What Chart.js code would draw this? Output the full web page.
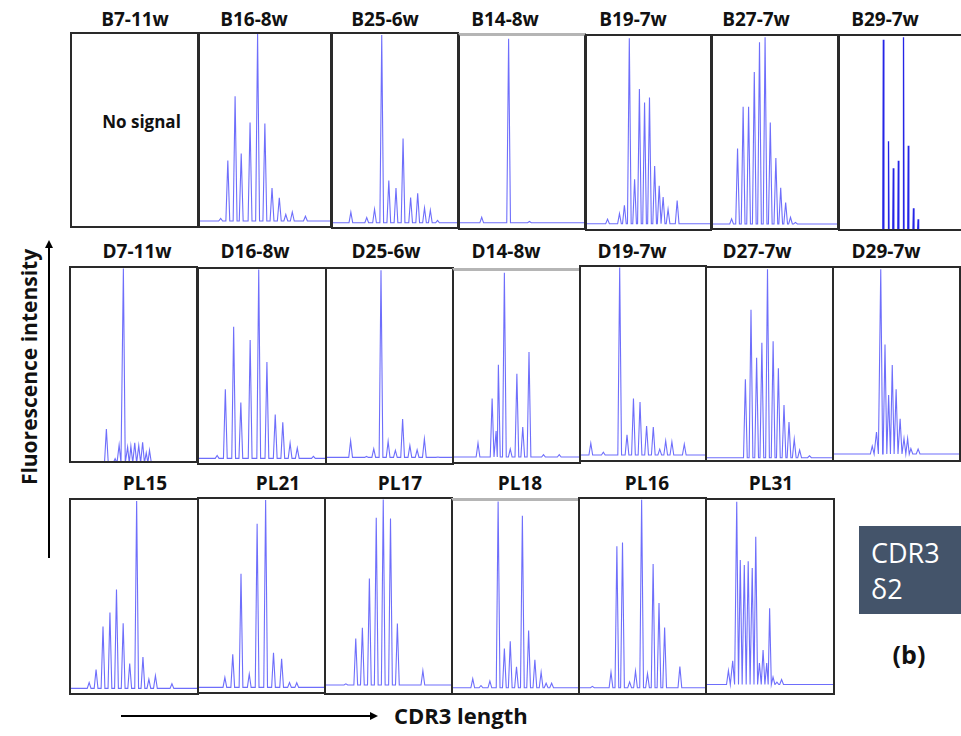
<!DOCTYPE html>
<html lang="en">
<head>
  <meta charset="UTF-8" />
  <title>CDR3 δ2 spectratypes</title>
  <script src="https://cdn.jsdelivr.net/npm/chart.js"></script>
  <style>
    body {
      margin: 0;
      width: 961px;
      height: 736px;
      position: relative;
      overflow: hidden;
      background: #fff;
      font-family: "Open Sans", Arial, sans-serif;
      color: #111;
    }
    .panel {
      position: absolute;
      box-sizing: border-box;
      border: 2px solid #2a2a2a;
      background: #fff;
    }
    .panel.ruled { border-top: 3px solid #b5b5b5; }
    .panel.open { border-right: none; }
    .panel canvas { display: block; }
    .title {
      position: absolute;
      font-weight: bold;
      font-size: 19px;
      line-height: 24px;
      white-space: nowrap;
      transform: translateX(-50%);
    }
    .nosignal {
      position: absolute;
      font-weight: bold;
      font-size: 17px;
      white-space: nowrap;
      transform: translate(-50%, -50%);
    }
    #ylabel {
      position: absolute;
      left: 29px;
      top: 367px;
      font-weight: bold;
      font-size: 21px;
      white-space: nowrap;
      transform: translate(-50%, -50%) rotate(-90deg);
    }
    #xlabel {
      position: absolute;
      left: 394px;
      top: 700px;
      font-weight: bold;
      font-size: 22px;
      white-space: nowrap;
    }
    #tag {
      position: absolute;
      left: 859px;
      top: 526px;
      width: 102px;
      height: 88px;
      background: #44546a;
      color: #fff;
      font-size: 27px;
      line-height: 36px;
      box-sizing: border-box;
      padding: 9px 0 0 12px;
    }
    #panelLetter {
      position: absolute;
      left: 909px;
      top: 654px;
      font-weight: bold;
      font-size: 25px;
      transform: translate(-50%, -50%);
    }
    svg { position: absolute; left: 0; top: 0; }
  </style>
</head>
<body>
  <div id="ylabel">Fluorescence intensity</div>
  <div id="xlabel">CDR3 length</div>
  <div id="tag">CDR3<br>δ2</div>
  <div id="panelLetter">(b)</div>
  <svg width="961" height="736">
    <defs>
      <marker id="head" markerWidth="8" markerHeight="8" refX="6" refY="4" orient="auto" markerUnits="userSpaceOnUse">
        <path d="M0,0 L8,4 L0,8 z" fill="#000" />
      </marker>
    </defs>
    <line x1="49" y1="558" x2="49" y2="242" stroke="#000" stroke-width="2" marker-end="url(#head)" />
    <line x1="121" y1="716" x2="376" y2="716" stroke="#000" stroke-width="2" marker-end="url(#head)" />
  </svg>

  <script>
    // Peak lists: [position along the length axis (0-100), peak height (0-100)]
    const B16_8w = [[15.9,3.9],[21.4,34.1],[27.0,67.6],[31.7,37.7],[38.5,53.9],[44.3,100],[49.9,53.4],[55.4,19.8],[61.0,14.7],[66.0,6.0],[71.0,7.3],[81.1,5.1]];
    const B25_6w = [[14.4,7.7],[27.2,4.9],[33.5,9.2],[39.3,99.5],[45.0,24.1],[50.8,20.2],[56.5,45.9],[62.6,15.3],[68.3,17.5],[73.8,9.9],[78.5,8.7],[84.3,3.4]];
    const B14_8w = [[17.5,5.6],[39.2,98.6],[56.0,3.4]];
    const B19_7w = [[16.7,5.1],[26.4,8.0],[30.4,12.3],[34.4,98.8],[38.7,25.8],[42.6,72.5],[46.8,65.6],[50.8,68.1],[55.0,32.6],[58.7,22.4],[61.9,16.5],[65.9,10.2],[73.3,14.8]];
    const B27_7w = [[15.0,4.8],[19.8,41.4],[24.3,63.2],[28.7,63.2],[33.3,81.3],[37.5,96.7],[42.0,99.3],[46.2,54.9],[50.7,36.4],[54.6,21.0],[58.6,13.3],[62.5,5.6],[66.5,2.9]];
    const B29_7w = [[34.4,98.0],[38.5,45.5],[42.3,31.5],[46.3,35.3],[50.4,99.3],[54.2,43.1],[58.3,10.7],[62.0,5.1]];

    const D7_11w = [[28.3,16.5],[35.3,1.2],[38.5,8.3],[41.9,99.7],[45.3,7.2],[47.9,7.7],[51.0,9.4],[54.2,8.0],[57.3,9.7],[60.2,4.3],[62.8,5.6]];
    const D16_8w = [[14.4,3.9],[20.9,38.0],[27.5,70.2],[33.2,31.2],[40.6,63.4],[47.4,99.7],[53.9,52.0],[60.5,25.0],[66.5,21.0],[72.3,10.2],[78.0,7.7],[90.8,3.4]];
    const D25_6w = [[18.9,11.4],[31.6,3.4],[37.4,7.3],[43.2,99.3],[48.9,11.1],[54.7,6.5],[60.5,22.7],[66.3,9.0],[72.1,6.8],[77.9,12.4],[88.7,3.1]];
    const D14_8w = [[19.2,9.9],[30.5,33.3],[33.7,16.2],[35.5,50.9],[40.3,99.1],[45.0,6.8],[50.3,46.2],[55.0,18.3],[60.0,57.6],[71.6,3.8],[84.2,3.8]];
    const D19_7w = [[7.9,8.7],[18.0,4.0],[31.2,99.8],[37.1,13.0],[42.3,31.8],[47.6,30.1],[52.9,17.6],[58.3,17.1],[63.5,5.6],[68.3,9.9],[73.3,9.4],[83.3,8.2]];
    const D27_7w = [[30.7,42.1],[35.2,78.2],[39.7,53.3],[43.9,61.0],[48.4,99.3],[52.9,61.9],[57.1,47.8],[61.6,28.7],[65.6,19.8],[69.8,10.8],[74.1,5.2],[82.0,2.2]];
    const D29_7w = [[30.6,7.2],[34.0,14.6],[37.4,99.3],[40.8,60.1],[43.7,33.8],[46.6,49.5],[49.7,36.9],[52.9,21.5],[56.0,11.2],[58.9,11.2],[61.5,6.0],[67.3,5.7]];

    const PL15 = [[14.4,5.4],[19.9,12.2],[25.4,34.5],[30.9,41.7],[36.1,53.6],[41.4,36.1],[46.6,15.3],[52.1,99.5],[57.1,18.7],[61.8,7.1],[67.0,9.0],[80.1,4.8]];
    const PL21 = [[20.7,7.5],[27.0,19.5],[33.6,61.3],[40.2,9.2],[46.5,87.2],[53.3,99.5],[59.6,20.3],[66.1,17.2],[72.4,4.9],[78.2,4.8]];
    const PL17 = [[15.9,4.7],[23.8,28.1],[29.1,33.6],[34.7,59.0],[40.2,90.3],[45.8,99.7],[51.6,90.0],[57.1,35.8],[77.5,11.5]];
    const PL18 = [[15.8,7.4],[22.4,3.9],[29.5,6.2],[36.1,99.7],[41.1,23.1],[45.8,27.0],[50.8,13.7],[55.5,92.3],[60.5,32.5],[65.5,17.3],[70.5,10.8],[74.5,5.1],[78.9,5.1]];
    const PL16 = [[9.9,3.4],[24.8,10.7],[29.5,75.7],[34.0,77.6],[39.7,5.7],[44.4,11.3],[49.3,99.6],[54.0,10.0],[58.5,66.5],[63.2,46.4],[67.7,33.8],[79.9,13.6]];
    const PL31 = [[17.0,11.6],[20.4,16.7],[23.6,99.1],[26.4,68.9],[29.6,66.3],[32.7,68.2],[35.9,64.8],[38.7,81.0],[41.6,15.5],[44.5,22.3],[47.4,15.5],[49.7,43.9],[52.4,8.2],[55.5,5.6],[59.2,7.0]];

    const panelTitles = [
      'B7-11w', 'B16-8w', 'B25-6w', 'B14-8w', 'B19-7w', 'B27-7w', 'B29-7w',
      'D7-11w', 'D16-8w', 'D25-6w', 'D14-8w', 'D19-7w', 'D27-7w', 'D29-7w',
      'PL15', 'PL21', 'PL17', 'PL18', 'PL16', 'PL31'
    ];
    const panelPeaks = [
      null, B16_8w, B25_6w, B14_8w, B19_7w, B27_7w, B29_7w,
      D7_11w, D16_8w, D25_6w, D14_8w, D19_7w, D27_7w, D29_7w,
      PL15, PL21, PL17, PL18, PL16, PL31
    ];
    // baseline level of each trace (negative = no baseline visible)
    const baselines = [
      0, 2.6, 2.2, 2.7, 2.7, 2.1, -1,
      -1, 2.4, 2.9, 2.6, 2.6, 1.2, 3.1,
      2.4, 2.4, 4.1, 2.7, 2.7, 4.4
    ];

    // page layout: [left, top, width, height] of each framed panel, and title centres
    const boxes = [
      [70, 32, 129, 196], [198, 32, 134, 196], [331, 32, 128, 197], [458, 33, 128, 197],
      [585, 34, 127, 197], [711, 34, 128, 196], [838, 34, 128, 197],
      [69, 266, 129, 197], [197, 267, 130, 198], [325, 267, 129, 198], [452, 268, 129, 196],
      [579, 265, 128, 197], [705, 266, 129, 196], [832, 266, 129, 196],
      [69, 498, 130, 197], [197, 497, 129, 197], [324, 497, 129, 198], [451, 498, 129, 197],
      [578, 497, 129, 198], [705, 498, 130, 197]
    ];
    const ruledTop = ['B14-8w', 'D14-8w', 'PL18'];
    const openRight = ['B29-7w'];
    const titleCenters = [
      [135, 7], [254, 7], [385, 7], [505, 7], [633, 7], [756, 7], [885, 7],
      [137, 239], [255, 239], [386, 239], [506, 239], [632, 239], [757, 239], [886, 239],
      [145, 471], [278, 471], [400, 471], [520, 471], [647, 471], [771, 471]
    ];

    // turn a peak list into a line trace: baseline, narrow spike per peak, baseline
    function peakTrace(peaks, base, halfWidth) {
      const pts = [{ x: 0, y: base }];
      peaks.forEach(([pos, h]) => {
        const left = pos - halfWidth;
        const last = pts[pts.length - 1];
        if (left < last.x) {
          // neighbouring peaks touch: meet in a valley halfway
          last.x = (last.x + left) / 2;
        } else {
          pts.push({ x: left, y: base });
        }
        pts.push({ x: pos, y: h });
        pts.push({ x: pos + halfWidth, y: base });
      });
      pts.push({ x: 100, y: base });
      return pts;
    }

    panelTitles.forEach((name, i) => {
      const [left, top, w, h] = boxes[i];
      const panel = document.createElement('div');
      panel.className = 'panel'
        + (ruledTop.includes(name) ? ' ruled' : '')
        + (openRight.includes(name) ? ' open' : '');
      Object.assign(panel.style, { left: left + 'px', top: top + 'px', width: w + 'px', height: h + 'px' });
      document.body.appendChild(panel);

      const title = document.createElement('div');
      title.className = 'title';
      title.textContent = name;
      title.style.left = titleCenters[i][0] + 'px';
      title.style.top = titleCenters[i][1] + 'px';
      document.body.appendChild(title);

      const peaks = panelPeaks[i];
      if (!peaks) {
        const msg = document.createElement('div');
        msg.className = 'nosignal';
        msg.textContent = 'No signal';
        msg.style.left = (left + w / 2 + 7) + 'px';
        msg.style.top = '121px';
        document.body.appendChild(msg);
        return;
      }

      const canvas = document.createElement('canvas');
      canvas.width = w - (openRight.includes(name) ? 2 : 4);
      canvas.height = h - (ruledTop.includes(name) ? 5 : 4);
      panel.appendChild(canvas);

      const dark = name === 'B29-7w';
      new Chart(canvas.getContext('2d'), {
        type: 'line',
        data: {
          datasets: [{
            data: peakTrace(peaks, baselines[i], dark ? 0.4 : 1.5),
            borderColor: dark ? 'rgba(25, 25, 230, 0.95)' : 'rgba(85, 85, 250, 0.85)',
            borderWidth: dark ? 1.3 : 1.1,
            pointRadius: 0,
            tension: 0,
            fill: false
          }]
        },
        options: {
          responsive: false,
          animation: false,
          events: [],
          layout: { padding: 0 },
          plugins: { legend: { display: false }, tooltip: { enabled: false } },
          scales: {
            x: { type: 'linear', min: 0, max: 100, display: false },
            y: { min: 0, max: 100, display: false }
          }
        }
      });
    });
  </script>
</body>
</html>
